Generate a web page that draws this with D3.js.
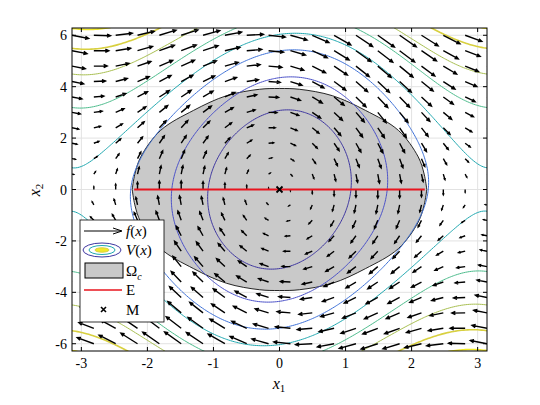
<!DOCTYPE html>
<html><head><meta charset="utf-8">
<script src="https://cdn.jsdelivr.net/npm/d3@7"></script>
<style>body{margin:0;background:#fff}text{font-family:"Liberation Serif","DejaVu Serif",serif}</style>
</head><body><svg id="c" width="540" height="405"></svg>
<script>
const xTicks=[-3,-2,-1,0,1,2,3];
const yTicks=[-6,-4,-2,0,2,4,6];
const levels=[0.53,1.06,1.63,2.04,2.57,3.13,3.69,4.2];
const levelColors=["#3d35a0","#4a50c8","#3f72d8","#1fa8b0","#4cbc8c","#a8bf50","#d8d040","#f2ea28"];
const vParams={a:0.056,c:-0.04};
const fParams={k:8,b:0.5,scale:0.042};
const omegaUpper=[[-2.23,0],[-2.19,0.6],[-2.1,1.27],[-1.8,2.3],[-1.3,3.08],[-0.8,3.65],[-0.3,3.9],[0,3.93],[0.3,3.9],[0.8,3.65],[1.3,3.08],[1.8,2.3],[2.1,1.27],[2.19,0.6],[2.23,0]];
const eSegment=[[-2.2,0],[2.2,0]];
const mPoint=[0,0];
const nArrowX=20,nArrowY=21;

const svg=d3.select("#c");
const L=72,R=487,T=28,B=351;
const x=d3.scaleLinear().domain([-Math.PI,Math.PI]).range([L,R]);
const y=d3.scaleLinear().domain([-2*Math.PI,2*Math.PI]).range([B,T]);
const defs=svg.append("defs");
defs.append("clipPath").attr("id","clip").append("rect").attr("x",L).attr("y",T).attr("width",R-L).attr("height",B-T);
const g=svg.append("g").attr("clip-path","url(#clip)");
g.selectAll(".gx").data(xTicks).join("line").attr("x1",d=>x(d)).attr("x2",d=>x(d)).attr("y1",T).attr("y2",B).attr("stroke","#e2e2e2");
g.selectAll(".gy").data(yTicks).join("line").attr("y1",d=>y(d)).attr("y2",d=>y(d)).attr("x1",L).attr("x2",R).attr("stroke","#e2e2e2");
const ln=d3.line().x(d=>x(d[0])).y(d=>y(d[1])).curve(d3.curveCatmullRom);
const lower=omegaUpper.map(p=>[-p[0],-p[1]]);
const dOmega=ln(omegaUpper)+"L"+ln(lower).slice(1)+"Z";
g.append("path").attr("d",dOmega).attr("fill","#c9c9c9").attr("stroke","#111").attr("stroke-width",0.9);
const V=(a,b)=>1-Math.cos(a)+vParams.a*b*b+vParams.c*Math.sin(a)*b;
const nx=220,ny=220,vals=new Array(nx*ny);
const x0=-3.3,x1=3.3,y0=-6.6,y1=6.6;
for(let j=0;j<ny;j++)for(let i=0;i<nx;i++){vals[j*nx+i]=V(x0+(x1-x0)*i/(nx-1),y0+(y1-y0)*j/(ny-1));}
const cs=d3.contours().size([nx,ny]).thresholds(levels)(vals);
const px=d3.scaleLinear().domain([0,nx-1]).range([x(x0),x(x1)]);
const py=d3.scaleLinear().domain([0,ny-1]).range([y(y0),y(y1)]);
const proj=d3.geoTransform({point:function(a,b){this.stream.point(px(a-0.5),py(b-0.5));}});
cs.forEach((c,i)=>{g.append("path").attr("d",d3.geoPath(proj)(c)).attr("fill","none")
 .attr("stroke",levelColors[i]).attr("stroke-width",i>=6?1.6:1);});
const arrows=[];
for(let i=0;i<nArrowX;i++)for(let j=0;j<nArrowY;j++){
 const a=-Math.PI+2*Math.PI*i/(nArrowX-1), b=-6+12*j/(nArrowY-1);
 arrows.push({a,b,u:b,v:-fParams.k*Math.sin(a)-fParams.b*b});}
const ag=g.append("g").attr("stroke","#000").attr("fill","none").attr("stroke-width",1.4);
arrows.forEach(d=>{
 const sx=x(d.a),sy=y(d.b),ex=x(d.a+d.u*fParams.scale),ey=y(d.b+d.v*fParams.scale);
 const dx=ex-sx,dy=ey-sy,len=Math.hypot(dx,dy);
 let p=`M${sx},${sy}L${ex},${ey}`;
 if(len>1){const h=Math.min(3.5,len*0.3),ux=dx/len,uy=dy/len;
  p+=`M${ex-h*ux-h*0.45*uy},${ey-h*uy+h*0.45*ux}L${ex},${ey}L${ex-h*ux+h*0.45*uy},${ey-h*uy-h*0.45*ux}`;}
 ag.append("path").attr("d",p);});
g.append("line").attr("x1",x(eSegment[0][0])).attr("x2",x(eSegment[1][0])).attr("y1",y(eSegment[0][1])).attr("y2",y(eSegment[1][1])).attr("stroke","#e8141e").attr("stroke-width",2.2);
const mx=x(mPoint[0]),my=y(mPoint[1]);
g.append("path").attr("d",`M${mx-3},${my-3}L${mx+3},${my+3}M${mx-3},${my+3}L${mx+3},${my-3}`).attr("stroke","#000").attr("stroke-width",1.8);
svg.append("rect").attr("x",L).attr("y",T).attr("width",R-L).attr("height",B-T).attr("fill","none").attr("stroke","#000");
xTicks.forEach(t=>{svg.append("line").attr("x1",x(t)).attr("x2",x(t)).attr("y1",B).attr("y2",B-4).attr("stroke","#000");
 svg.append("line").attr("x1",x(t)).attr("x2",x(t)).attr("y1",T).attr("y2",T+4).attr("stroke","#000");
 svg.append("text").attr("x",x(t)).attr("y",B+17).attr("text-anchor","middle").attr("font-size",14).text(t<0?"-"+(-t):t);});
yTicks.forEach(t=>{svg.append("line").attr("y1",y(t)).attr("y2",y(t)).attr("x1",L).attr("x2",L+4).attr("stroke","#000");
 svg.append("line").attr("y1",y(t)).attr("y2",y(t)).attr("x1",R).attr("x2",R-4).attr("stroke","#000");
 svg.append("text").attr("x",L-5).attr("y",y(t)+5).attr("text-anchor","end").attr("font-size",14).text(t<0?"-"+(-t):t);});
const xl=svg.append("text").attr("x",279).attr("y",389).attr("text-anchor","middle").attr("font-size",16);
xl.append("tspan").attr("font-style","italic").text("x");xl.append("tspan").attr("font-size",11).attr("dy",3).text("1");
const yl=svg.append("text").attr("transform","translate(40,190) rotate(-90)").attr("text-anchor","middle").attr("font-size",16);
yl.append("tspan").attr("font-style","italic").text("x");yl.append("tspan").attr("font-size",11).attr("dy",3).text("2");
const lg=svg.append("g");
lg.append("rect").attr("x",80).attr("y",220).attr("width",84).attr("height",102).attr("fill","#fff").attr("stroke","#000").attr("stroke-width",0.8);
lg.append("path").attr("d","M84,231L121,231M113,228L122,231L113,234").attr("stroke","#000").attr("fill","none").attr("stroke-width",1);
lg.append("ellipse").attr("cx",102).attr("cy",250).attr("rx",19).attr("ry",7).attr("fill","none").attr("stroke","#3d35a0");
lg.append("ellipse").attr("cx",102).attr("cy",250).attr("rx",13).attr("ry",4.5).attr("fill","none").attr("stroke","#1fa8b0");
lg.append("ellipse").attr("cx",102).attr("cy",250).attr("rx",7).attr("ry",2.2).attr("fill","#f2ea28").attr("stroke","#d8d040");
lg.append("rect").attr("x",85).attr("y",263).attr("width",38).attr("height",15).attr("fill","#c9c9c9").attr("stroke","#000");
lg.append("line").attr("x1",84).attr("x2",122).attr("y1",290).attr("y2",290).attr("stroke","#e8141e").attr("stroke-width",1.6);
lg.append("path").attr("d","M101,307L106,312M101,312L106,307").attr("stroke","#000").attr("stroke-width",1.6);
function ltext(yy,main,sub,it){const t=lg.append("text").attr("x",126).attr("y",yy).attr("font-size",15);
 if(it){t.append("tspan").attr("font-style","italic").text(main[0]);t.append("tspan").text("(");t.append("tspan").attr("font-style","italic").text("x");t.append("tspan").text(")");}
 else {t.append("tspan").text(main);} if(sub)t.append("tspan").attr("font-size",10).attr("dy",4).attr("font-style","italic").text(sub);}
ltext(236,"f",null,true);ltext(255,"V",null,true);ltext(276,"Ω","c",false);ltext(295,"E",null,false);ltext(315,"M",null,false);
</script></body></html>
